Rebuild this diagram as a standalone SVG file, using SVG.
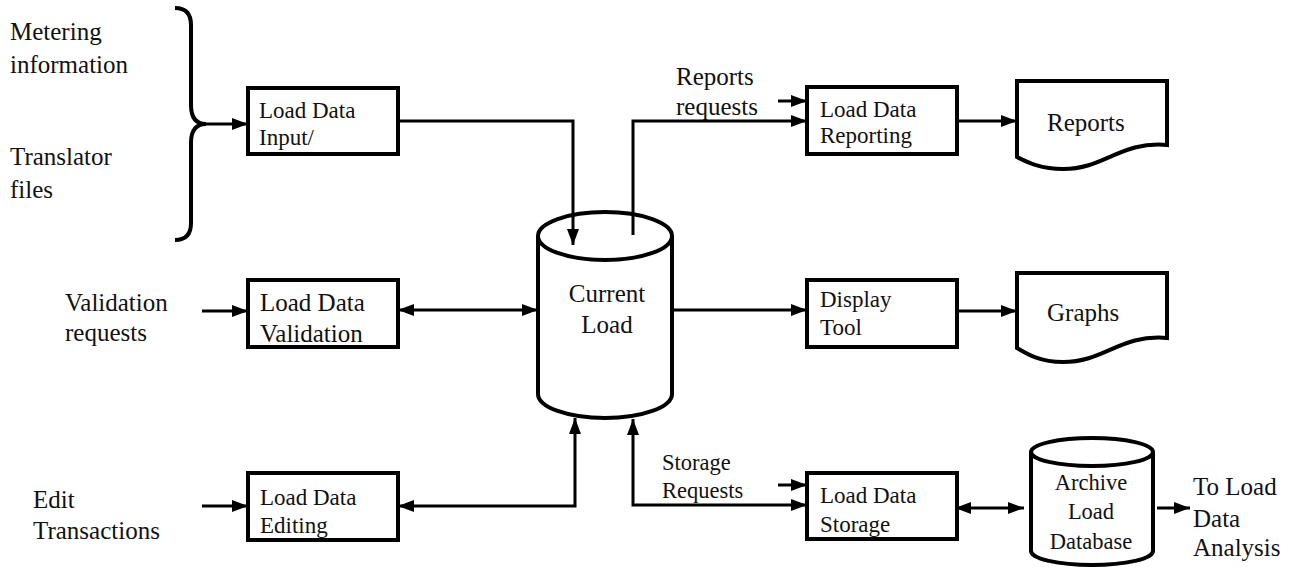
<svg xmlns="http://www.w3.org/2000/svg" width="1289" height="567" viewBox="0 0 1289 567">
<style>
text{font-family:"Liberation Serif","Times New Roman",serif;fill:#111;}
.lbl{font-size:25px;}
.sm{font-size:22.5px;}
.bx{font-size:23px;}
.box{fill:#fff;stroke:#000;stroke-width:4;}
.shape{fill:#fff;stroke:#000;stroke-width:4;}
.ln{fill:none;stroke:#000;stroke-width:3;}
</style>
<defs>
<marker id="ah" markerUnits="userSpaceOnUse" markerWidth="17" markerHeight="13" refX="16" refY="6" orient="auto-start-reverse">
<path d="M0,0 L16,6 L0,12 z" fill="#000"/>
</marker>
</defs>
<rect width="1289" height="567" fill="#fff"/>

<g id="brace">
<path d="M175,8 Q191,8 191,25 L191,105 Q191,124 206,124 Q191,124 191,143 L191,223 Q191,240 175,240" fill="none" stroke="#000" stroke-width="4"/>
</g>
<g id="metering"><text class="lbl" x="10" y="40">Metering</text><text class="lbl" x="10" y="73">information</text></g>
<g id="translator"><text class="lbl" x="10" y="165">Translator</text><text class="lbl" x="10" y="198">files</text></g>
<g id="validation-req"><text class="lbl" x="65" y="311">Validation</text><text class="lbl" x="65" y="341">requests</text></g>
<g id="edit-trans"><text class="lbl" x="33" y="508">Edit</text><text class="lbl" x="33" y="539">Transactions</text></g>

<g id="input">
<rect class="box" x="248" y="88" width="150" height="66"/>
<text class="bx" x="259" y="118">Load Data</text><text class="bx" x="259" y="145">Input/</text>
</g>
<g id="validation">
<rect class="box" x="248" y="280" width="150" height="67"/>
<text class="lbl" x="260" y="311">Load Data</text><text class="lbl" x="260" y="342">Validation</text>
</g>
<g id="editing">
<rect class="box" x="248" y="473" width="150" height="67"/>
<text class="bx" x="260" y="505">Load Data</text><text class="bx" x="260" y="533">Editing</text>
</g>

<g id="current-load">
<path class="shape" d="M538,236 V394 A67,24 0 0 0 672,394 V236"/>
<ellipse class="shape" cx="605" cy="236" rx="67" ry="24"/>
<text class="lbl" x="607" y="302" text-anchor="middle">Current</text>
<text class="lbl" x="607" y="333" text-anchor="middle">Load</text>
</g>

<g id="reports-req"><text class="lbl" x="676" y="85">Reports</text><text class="lbl" x="676" y="115">requests</text></g>
<g id="storage-req"><text class="sm" x="662" y="470">Storage</text><text class="sm" x="662" y="498">Requests</text></g>

<g id="reporting">
<rect class="box" x="807" y="87" width="150" height="67"/>
<text class="bx" x="820" y="117">Load Data</text><text class="bx" x="820" y="143">Reporting</text>
</g>
<g id="display">
<rect class="box" x="807" y="280" width="150" height="67"/>
<text class="bx" x="820" y="307">Display</text><text class="bx" x="820" y="335">Tool</text>
</g>
<g id="storage">
<rect class="box" x="807" y="473" width="150" height="66"/>
<text class="bx" x="820" y="503">Load Data</text><text class="bx" x="820" y="532">Storage</text>
</g>

<g id="reports">
<path class="shape" d="M1017,81 H1167 V145 C1120,141 1105,169 1063,169 C1040,169 1027,162 1017,157 Z"/>
<text class="lbl" x="1047" y="131">Reports</text>
</g>
<g id="graphs">
<path class="shape" d="M1017,273 H1167 V338 C1120,334 1105,362 1063,362 C1040,362 1027,354 1017,348 Z"/>
<text class="lbl" x="1047" y="321">Graphs</text>
</g>

<g id="archive">
<path class="shape" d="M1031,452 V551 A61,14 0 0 0 1153,551 V452"/>
<ellipse class="shape" cx="1092" cy="452" rx="61" ry="14"/>
<text class="sm" x="1091" y="490" text-anchor="middle">Archive</text>
<text class="sm" x="1091" y="519" text-anchor="middle">Load</text>
<text class="sm" x="1091" y="549" text-anchor="middle">Database</text>
</g>
<g id="to-analysis"><text class="lbl" x="1193" y="495">To Load</text><text class="lbl" x="1193" y="527">Data</text><text class="lbl" x="1193" y="556">Analysis</text></g>

<g id="connectors">
<path class="ln" d="M206,124 H248" marker-end="url(#ah)"/>
<path class="ln" d="M398,121 H573 V245" marker-end="url(#ah)"/>
<path class="ln" d="M633,235 V121 H807" marker-end="url(#ah)"/>
<path class="ln" d="M778,101 H807" marker-end="url(#ah)"/>
<path class="ln" d="M957,121 H1017" marker-end="url(#ah)"/>
<path class="ln" d="M202,311 H248" marker-end="url(#ah)"/>
<path class="ln" d="M398,310 H538" marker-start="url(#ah)" marker-end="url(#ah)"/>
<path class="ln" d="M672,310 H807" marker-end="url(#ah)"/>
<path class="ln" d="M957,311 H1017" marker-end="url(#ah)"/>
<path class="ln" d="M202,506 H248" marker-end="url(#ah)"/>
<path class="ln" d="M398,506 H575 V418" marker-start="url(#ah)" marker-end="url(#ah)"/>
<path class="ln" d="M633,419 V505 H807" marker-start="url(#ah)" marker-end="url(#ah)"/>
<path class="ln" d="M778,485 H807" marker-end="url(#ah)"/>
<path class="ln" d="M955,508 H1024" marker-start="url(#ah)" marker-end="url(#ah)"/>
<path class="ln" d="M1157,508 H1190" marker-end="url(#ah)"/>
</g>
</svg>
